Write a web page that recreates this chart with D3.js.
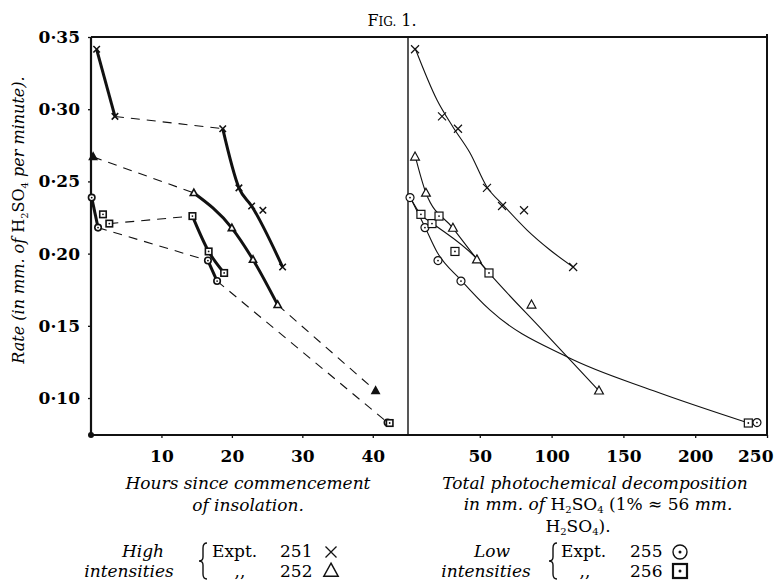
<!DOCTYPE html>
<html>
<head>
<meta charset="utf-8">
<script src="https://cdn.jsdelivr.net/npm/d3@7"></script>
<style>
  body { margin: 0; background: #fff; }
  svg { display: block; }
  text { font-family: "DejaVu Serif", serif; fill: #000; }
</style>
</head>
<body>
<script>
var W = 776, H = 581;

// tick values
var rateTicks = [0.35, 0.30, 0.25, 0.20, 0.15, 0.10];
var hourTicks = [10, 20, 30, 40];
var decompTicks = [50, 100, 150, 200, 250];

// Expt. 251 (high intensity, crosses)
var hours251 = [0.8, 3.4, 18.7, 21.0, 22.8, 24.4, 27.2];
var decomp251 = [4.9, 23.7, 34.8, 55, 65.5, 80.8, 115];
var rate251 = [0.3415, 0.295, 0.2865, 0.2455, 0.233, 0.230, 0.1907];

// Expt. 252 (high intensity, triangles)
var hours252 = [0.3, 14.6, 20.0, 23.0, 26.5, 40.4];
var decomp252 = [4.9, 12.5, 31.3, 48, 86, 133];
var rate252 = [0.267, 0.242, 0.2177, 0.1958, 0.1645, 0.105];

// Expt. 255 (low intensity, circles)
var hours255 = [0.1, 1.0, 16.6, 17.9, 42.1];
var decomp255 = [1.4, 11.8, 20.9, 36.9, 243];
var rate255 = [0.2388, 0.218, 0.1952, 0.181, 0.083];

// Expt. 256 (low intensity, squares)
var hours256 = [1.7, 2.6, 14.4, 16.7, 18.9, 42.4];
var decomp256 = [9, 16.7, 21.6, 32.7, 56.4, 237];
var rate256 = [0.2272, 0.2208, 0.226, 0.2015, 0.1866, 0.0827];

// left panel: which points are joined by a heavy line or a dashed one
var runs251 = [["solid", [0, 1]], ["dash", [1, 2]], ["solid", [2, 3, 4, 6]]];
var runs252 = [["dash", [0, 1]], ["solid", [1, 2, 3, 4]], ["dash", [4, 5]]];
var runs255 = [["solid", [0, 1]], ["dash", [1, 2]], ["solid", [2, 3]], ["dash", [3, 4]]];
var runs256 = [["dash", [1, 2]], ["solid", [2, 3, 4]]];

// right panel: smooth curves as drawn by hand [decomposition, rate]
var fit251 = [[4.9, 0.3424], [20.2, 0.3064], [31.3, 0.2877], [43.2, 0.2697], [55, 0.2461], [66.2, 0.2337], [82.9, 0.2163], [98.9, 0.2025], [115, 0.1907]];
var fit252 = [[4.9, 0.268], [12.5, 0.242], [31.3, 0.2177], [48, 0.1963], [56.4, 0.1866], [95, 0.1455], [133, 0.105]];
var fit255 = [[1.4, 0.2392], [11.8, 0.2184], [20.2, 0.2011], [36.9, 0.1817], [57, 0.161], [111, 0.1284], [171, 0.105], [237, 0.0827]];
var fit256 = [[1.4, 0.2392], [9, 0.2269], [16.7, 0.2212], [48, 0.1963], [56.4, 0.1866]];

var svg = d3.select("body").append("svg")
	.attr("width", W)
	.attr("height", H);

var plotTop = 37, plotBottom = 435, plotLeft = 91, plotMid = 408, plotRight = 767;

var y = d3.scaleLinear().domain([0.0744, 0.35]).range([plotBottom, plotTop]);
var xH = d3.scaleLinear().domain([0, 45]).range([plotLeft, plotMid]);
var xD = d3.scaleLinear().domain([0, 250]).range([plotMid, plotRight]);

// title
var title = svg.append("text").attr("x", 392).attr("y", 26).attr("text-anchor", "middle");
title.append("tspan").style("font-size", "16px").text("F");
title.append("tspan").style("font-size", "12px").text("IG.");
title.append("tspan").style("font-size", "16px").text(" 1.");

// axes (ticks and labels only, frame drawn below)
function styleAxis(g) {
	g.select(".domain").remove();
	g.selectAll(".tick line").attr("stroke", "#111").attr("stroke-width", 1.3);
	g.selectAll(".tick text").style("font-size", "17px").style("font-weight", "bold")
		.style("font-family", "'DejaVu Serif', serif").attr("fill", "#000");
}

svg.append("g")
	.attr("transform", "translate(" + plotLeft + ",0)")
	.call(d3.axisLeft(y).tickValues(rateTicks).tickSize(3).tickPadding(8)
		.tickFormat(function(d) { return d3.format(".2f")(d).replace(".", "\u00b7"); }))
	.call(styleAxis);

svg.append("g")
	.attr("transform", "translate(0," + plotBottom + ")")
	.call(d3.axisBottom(xH).tickValues(hourTicks).tickSize(3).tickPadding(12))
	.call(styleAxis);

var axD = svg.append("g")
	.attr("transform", "translate(0," + plotBottom + ")")
	.call(d3.axisBottom(xD).tickValues(decompTicks).tickSize(3).tickPadding(12))
	.call(styleAxis);
axD.selectAll(".tick text").filter(function(d) { return d === 250; })
	.attr("text-anchor", "end").attr("dx", 6);

// frame
var frame = svg.append("g").attr("fill", "none").attr("stroke", "#111");
frame.append("line").attr("x1", plotLeft).attr("x2", plotRight).attr("y1", plotTop).attr("y2", plotTop).attr("stroke-width", 2);
frame.append("line").attr("x1", plotLeft).attr("x2", plotRight).attr("y1", plotBottom).attr("y2", plotBottom).attr("stroke-width", 2.2);
frame.append("line").attr("x1", plotLeft).attr("x2", plotLeft).attr("y1", plotTop).attr("y2", plotBottom).attr("stroke-width", 2.2);
frame.append("line").attr("x1", plotRight).attr("x2", plotRight).attr("y1", plotTop - 3).attr("y2", plotBottom).attr("stroke-width", 2);
frame.append("line").attr("x1", plotMid).attr("x2", plotMid).attr("y1", plotTop).attr("y2", plotBottom).attr("stroke-width", 1.4);
svg.append("circle").attr("cx", plotLeft).attr("cy", plotBottom).attr("r", 3).attr("fill", "#111");

// markers
function marker(g, type, cx, cy, s, sw, filled) {
	var m = g.append("g").attr("transform", "translate(" + cx + "," + cy + ")")
		.attr("stroke", "#111").attr("stroke-width", sw).attr("fill", filled ? "#111" : "#fff");
	var h = s / 2;
	if (type == "x") {
		m.append("path").attr("d", "M" + (-h) + "," + (-h) + "L" + h + "," + h + "M" + (-h) + "," + h + "L" + h + "," + (-h));
	} else if (type == "tri") {
		m.append("path").attr("d", "M0," + (-s * 0.6) + "L" + (s * 0.55) + "," + (s * 0.4) + "L" + (-s * 0.55) + "," + (s * 0.4) + "Z");
	} else if (type == "circ") {
		m.append("circle").attr("r", h);
		m.append("circle").attr("r", 0.9).attr("fill", "#111").attr("stroke", "none");
	} else {
		m.append("rect").attr("x", -h).attr("y", -h).attr("width", s).attr("height", s);
		m.append("circle").attr("r", 0.9).attr("fill", "#111").attr("stroke", "none");
	}
}

var series = [
	{ type: "x", hours: hours251, decomp: decomp251, rate: rate251, runs: runs251, fit: fit251, filled: [] },
	{ type: "tri", hours: hours252, decomp: decomp252, rate: rate252, runs: runs252, fit: fit252, filled: [0, 5] },
	{ type: "circ", hours: hours255, decomp: decomp255, rate: rate255, runs: runs255, fit: fit255, filled: [] },
	{ type: "sq", hours: hours256, decomp: decomp256, rate: rate256, runs: runs256, fit: fit256, filled: [] }
];

var leftG = svg.append("g");
var rightG = svg.append("g");

var lineL = d3.line().curve(d3.curveMonotoneX);
var lineR = d3.line()
	.x(function(d) { return xD(d[0]); })
	.y(function(d) { return y(d[1]); })
	.curve(d3.curveMonotoneX);

series.forEach(function(s) {
	// left panel: hours
	s.runs.forEach(function(run) {
		var pts = run[1].map(function(i) { return [xH(s.hours[i]), y(s.rate[i])]; });
		leftG.append("path")
			.attr("d", lineL(pts))
			.attr("fill", "none")
			.attr("stroke", "#111")
			.attr("stroke-width", run[0] == "solid" ? 3 : 1.1)
			.attr("stroke-dasharray", run[0] == "solid" ? null : "9,7");
	});
	// right panel: fitted curve
	rightG.append("path")
		.attr("d", lineR(s.fit))
		.attr("fill", "none")
		.attr("stroke", "#111")
		.attr("stroke-width", 1.1);
});

series.forEach(function(s) {
	s.hours.forEach(function(h, i) {
		marker(leftG, s.type, xH(h), y(s.rate[i]), 6.5, 1.6, s.filled.indexOf(i) >= 0);
	});
	s.decomp.forEach(function(d, i) {
		marker(rightG, s.type, xD(d), y(s.rate[i]), 8, 1.2, false);
	});
});

// y axis title
var yt = svg.append("text")
	.attr("transform", "translate(24,220) rotate(-90)")
	.attr("text-anchor", "middle")
	.style("font-size", "16px");
yt.append("tspan").style("font-style", "italic").text("Rate (in mm. of ");
yt.append("tspan").text("H");
yt.append("tspan").style("font-size", "10px").attr("dy", 4).text("2");
yt.append("tspan").attr("dy", -4).text("SO");
yt.append("tspan").style("font-size", "10px").attr("dy", 4).text("4");
yt.append("tspan").style("font-style", "italic").attr("dy", -4).text(" per minute).");

// x axis titles
function italicLine(x, yy, str) {
	return svg.append("text").attr("x", x).attr("y", yy).attr("text-anchor", "middle")
		.style("font-size", "17px").style("font-style", "italic").text(str);
}
italicLine(248, 489, "Hours since commencement");
italicLine(248, 511, "of insolation.");
italicLine(595, 489, "Total photochemical decomposition");

var t2 = svg.append("text").attr("x", 598).attr("y", 510).attr("text-anchor", "middle").style("font-size", "17px");
t2.append("tspan").style("font-style", "italic").text("in mm. of ");
t2.append("tspan").text("H");
t2.append("tspan").style("font-size", "10px").attr("dy", 3).text("2");
t2.append("tspan").attr("dy", -3).text("SO");
t2.append("tspan").style("font-size", "10px").attr("dy", 3).text("4");
t2.append("tspan").attr("dy", -3).text(" (1% \u2248 56 ");
t2.append("tspan").style("font-style", "italic").text("mm.");

var t3 = svg.append("text").attr("x", 578).attr("y", 532).attr("text-anchor", "middle").style("font-size", "17px");
t3.append("tspan").text("H");
t3.append("tspan").style("font-size", "10px").attr("dy", 3).text("2");
t3.append("tspan").attr("dy", -3).text("SO");
t3.append("tspan").style("font-size", "10px").attr("dy", 3).text("4");
t3.append("tspan").attr("dy", -3).text(").");

// legend
function brace(x, y0, y1) {
	var m = (y0 + y1) / 2;
	svg.append("path")
		.attr("d", "M" + (x + 6) + "," + y0 + " Q" + (x + 2) + "," + y0 + " " + (x + 2) + "," + (y0 + 5) +
			" L" + (x + 2) + "," + (m - 4) + " Q" + (x + 2) + "," + m + " " + (x - 2) + "," + m +
			" Q" + (x + 2) + "," + m + " " + (x + 2) + "," + (m + 4) +
			" L" + (x + 2) + "," + (y1 - 5) + " Q" + (x + 2) + "," + y1 + " " + (x + 6) + "," + y1)
		.attr("fill", "none").attr("stroke", "#111").attr("stroke-width", 1.4);
}

function legendText(x, yy, str, italic, anchor) {
	svg.append("text").attr("x", x).attr("y", yy).attr("text-anchor", anchor || "start")
		.style("font-size", "17px").style("font-style", italic ? "italic" : "normal").text(str);
}

legendText(143, 557, "High", true, "middle");
legendText(129, 577, "intensities", true, "middle");
brace(201, 543, 579);
legendText(212, 557, "Expt.");
legendText(280, 557, "251");
legendText(240, 577, ",,", false, "middle");
legendText(280, 577, "252");
var lg = svg.append("g");
marker(lg, "x", 331, 552, 11, 1.3, false);
marker(lg, "tri", 331, 571, 13, 1.5, false);

legendText(492, 557, "Low", true, "middle");
legendText(486, 577, "intensities", true, "middle");
brace(551, 543, 579);
legendText(561, 557, "Expt.");
legendText(630, 557, "255");
legendText(585, 577, ",,", false, "middle");
legendText(630, 577, "256");
var lc = lg.append("g").attr("transform", "translate(680,552)");
lc.append("circle").attr("r", 7).attr("fill", "#fff").attr("stroke", "#111").attr("stroke-width", 1.4);
lc.append("circle").attr("r", 1.5).attr("fill", "#111");
var ls = lg.append("g").attr("transform", "translate(680,571)");
ls.append("rect").attr("x", -7).attr("y", -7).attr("width", 14).attr("height", 14)
	.attr("fill", "#fff").attr("stroke", "#111").attr("stroke-width", 2.2);
ls.append("circle").attr("r", 1.5).attr("fill", "#111");
</script>
</body>
</html>
